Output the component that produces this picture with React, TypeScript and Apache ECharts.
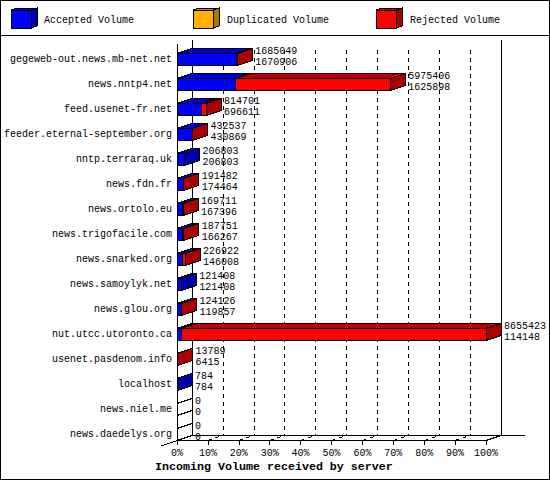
import React, { useEffect, useRef } from "react";
import * as echarts from "echarts";

const servers = [
  "gegeweb-out.news.mb-net.net", "news.nntp4.net", "feed.usenet-fr.net", "feeder.eternal-september.org",
  "nntp.terraraq.uk", "news.fdn.fr", "news.ortolo.eu", "news.trigofacile.com", "news.snarked.org",
  "news.samoylyk.net", "news.glou.org", "nut.utcc.utoronto.ca", "usenet.pasdenom.info", "localhost",
  "news.niel.me", "news.daedelys.org",
];
const totals = [1685049, 5975406, 814701, 432537, 206803, 191482, 169711, 187751, 226922, 121408, 124126, 8655423, 13789, 784, 0, 0];
const accepted = [1670906, 1625898, 696611, 430869, 206803, 174464, 167396, 166267, 146008, 121408, 119857, 114148, 6415, 784, 0, 0];
const duplicated = [0, 0, 0, 0, 0, 0, 0, 0, 0, 0, 0, 0, 0, 0, 0, 0];
const legendNames = ["Accepted Volume", "Duplicated Volume", "Rejected Volume"];
const legendFills = ["#0000ff", "#ffb000", "#ff0000"];
const legendSides = ["#0000aa", "#a87810", "#aa0000"];
const topColors = ["#0000cc", "#cc9000", "#c00000"];
const titleText = "Incoming Volume received by server";

const MONO = '"Liberation Mono", monospace';
const DX = 15;
const DY = -5;
const BAR_H = 12;
const FRONT_L = 177;
const PLOT_W = 309;
const FRONT_B = 440;
const BACK_B = 435;
const BACK_T = 40;

const scale = Math.max(...totals);
const pct = (v: number) => (v / scale) * 100;
const rejected = totals.map((t, i) => t - accepted[i] - duplicated[i]);

function segmentSeries(seriesIndex: number) {
  const parts = [accepted, duplicated, rejected];
  const data = servers.map((_, i) => {
    let before = 0;
    for (let s = 0; s < seriesIndex; s++) before += parts[s][i];
    const own = parts[seriesIndex][i];
    let last = own > 0;
    for (let s = seriesIndex + 1; s < 3; s++) if (parts[s][i] > 0) last = false;
    if (totals[i] === 0 && seriesIndex === 0) last = true;
    return [pct(before), pct(before + own), i, last ? 1 : 0, own > 0 ? 1 : 0];
  });
  return {
    name: legendNames[seriesIndex],
    type: "custom",
    coordinateSystem: "cartesian2d",
    xAxisIndex: 0,
    yAxisIndex: 0,
    clip: false,
    silent: true,
    z: 3,
    encode: { x: [0, 1], y: 2 },
    data,
    renderItem: (_p: any, api: any) => {
      const a = api.coord([api.value(0), api.value(2)]);
      const b = api.coord([api.value(1), api.value(2)]);
      const isLast = api.value(3) === 1;
      const hasLen = api.value(4) === 1;
      const y0 = a[1] - BAR_H / 2;
      const y1 = a[1] + BAR_H / 2;
      const st = { stroke: "#000", lineWidth: 1 };
      const children: any[] = [];
      if (hasLen) {
        children.push({
          type: "polygon",
          shape: { points: [[a[0], y0], [a[0] + DX, y0 + DY], [b[0] + DX, y0 + DY], [b[0], y0]] },
          style: { fill: topColors[seriesIndex], ...st },
        });
        children.push({
          type: "rect",
          shape: { x: a[0], y: y0, width: b[0] - a[0], height: BAR_H },
          style: { fill: legendFills[seriesIndex], ...st },
        });
      }
      if (isLast) {
        children.push({
          type: "polygon",
          shape: { points: [[b[0], y0], [b[0] + DX, y0 + DY], [b[0] + DX, y1 + DY], [b[0], y1]] },
          style: { fill: hasLen ? legendSides[seriesIndex] : "rgba(255,255,255,0)", ...st },
        });
      }
      return { type: "group", children };
    },
  };
}

const labelSeries = {
  name: "Values",
  type: "custom",
  coordinateSystem: "cartesian2d",
  xAxisIndex: 0,
  yAxisIndex: 0,
  clip: false,
  silent: true,
  z: 4,
  encode: { x: 0, y: 1 },
  data: servers.map((_, i) => [pct(totals[i]), i, totals[i], accepted[i]]),
  renderItem: (_p: any, api: any) => {
    const c = api.coord([api.value(0), api.value(1)]);
    const mk = (t: number, dy: number) => ({
      type: "text",
      style: {
        text: String(t),
        x: c[0] + DX + 3,
        y: c[1] + dy,
        font: `10px ${MONO}`,
        fill: "#000",
        textAlign: "left",
        textVerticalAlign: "middle",
      },
    });
    return { type: "group", children: [mk(api.value(2), -8.5), mk(api.value(3), 2.5)] };
  },
};

function frameGraphics() {
  const line = (x1: number, y1: number, x2: number, y2: number, extra: any = {}) => ({
    type: "line",
    silent: true,
    shape: { x1, y1, x2, y2 },
    style: { stroke: "#000", lineWidth: 1, ...extra },
  });
  const els: any[] = [
    { type: "rect", silent: true, shape: { x: 0.5, y: 0.5, width: 549, height: 479 }, style: { fill: "none", stroke: "#000", lineWidth: 1 } },
    line(0, 35.5, 550, 35.5),
    line(192.5, BACK_T, 192.5, BACK_B),
    line(501.5, BACK_T, 501.5, BACK_B),
    line(FRONT_L + 0.5, 44, FRONT_L + 0.5, FRONT_B),
    line(192, BACK_B + 0.5, 525, BACK_B + 0.5),
    line(161, 446, 192, BACK_B + 0.5),
    line(FRONT_L + PLOT_W, FRONT_B + 0.5, FRONT_L + PLOT_W + DX, BACK_B + 0.5),
  ];
  for (let k = 1; k < 10; k++) {
    const x = FRONT_L + (PLOT_W * k) / 10;
    els.push(line(x, FRONT_B + 0.5, x + DX, BACK_B + 0.5, { lineDash: [4, 4] }));
  }
  const lefts = [11, 193, 376];
  const textLefts = [44, 227, 410];
  legendNames.forEach((name, i) => {
    const x = lefts[i];
    els.push({
      type: "polygon", silent: true,
      shape: { points: [[x, 10], [x + 6, 8], [x + 26, 8], [x + 20, 10]] },
      style: { fill: topColors[i], stroke: "#000", lineWidth: 1 },
    });
    els.push({
      type: "polygon", silent: true,
      shape: { points: [[x + 20, 10], [x + 26, 8], [x + 26, 26], [x + 20, 28]] },
      style: { fill: legendSides[i], stroke: "#000", lineWidth: 1 },
    });
    els.push({
      type: "rect", silent: true,
      shape: { x, y: 10, width: 20, height: 18 },
      style: { fill: legendFills[i], stroke: "#000", lineWidth: 1 },
    });
    els.push({
      type: "text", silent: true, x: textLefts[i], y: 20.5,
      style: { text: name, font: `10px ${MONO}`, fill: "#000", textVerticalAlign: "middle" },
    });
  });
  return els;
}

export default function App() {
  const ref = useRef<HTMLDivElement>(null);
  useEffect(() => {
    const chart = echarts.init(ref.current!, null, { renderer: "svg" });
    chart.setOption({
      animation: false,
      backgroundColor: "#fff",
      title: {
        text: titleText, left: 155, top: 461, padding: 0,
        textStyle: { fontFamily: MONO, fontWeight: "bold", fontSize: 11.67, color: "#000" },
      },
      grid: [
        { left: FRONT_L, width: PLOT_W, top: 47, height: 400 },
        { left: FRONT_L + DX, width: PLOT_W, top: 50, bottom: 480 - BACK_B },
      ],
      xAxis: [
        {
          gridIndex: 0, type: "value", min: 0, max: 100, interval: 10, position: "bottom", offset: -7,
          axisLine: { show: true, lineStyle: { color: "#000", width: 1 } },
          axisTick: { show: true, length: 5, lineStyle: { color: "#000", width: 1 } },
          axisLabel: { color: "#000", fontFamily: MONO, fontSize: 10, margin: 8, formatter: "{value}%", hideOverlap: false, showMinLabel: true, showMaxLabel: true },
          splitLine: { show: false },
        },
        {
          gridIndex: 1, type: "value", min: 0, max: 100, interval: 10,
          axisLine: { show: false }, axisTick: { show: false }, axisLabel: { show: false },
          splitLine: { show: true, lineStyle: { color: "#000", width: 1, type: [4, 4] } },
        },
      ],
      yAxis: [
        {
          gridIndex: 0, type: "category", inverse: true, data: servers,
          axisLine: { show: false }, axisTick: { show: false },
          axisLabel: { color: "#000", fontFamily: MONO, fontSize: 10, margin: 5, interval: 0, padding: [1, 0, 0, 0] },
          splitLine: { show: false },
        },
        { gridIndex: 1, type: "value", show: false, splitLine: { show: false } },
      ],
      graphic: { elements: frameGraphics() },
      series: [segmentSeries(0), segmentSeries(1), segmentSeries(2), labelSeries],
    });
    return () => chart.dispose();
  }, []);
  return (
    <>
      <style>{"html,body{margin:0;padding:0;background:#fff} svg path{shape-rendering:crispEdges}"}</style>
      <div ref={ref} style={{ width: 550, height: 480 }} />
    </>
  );
}
